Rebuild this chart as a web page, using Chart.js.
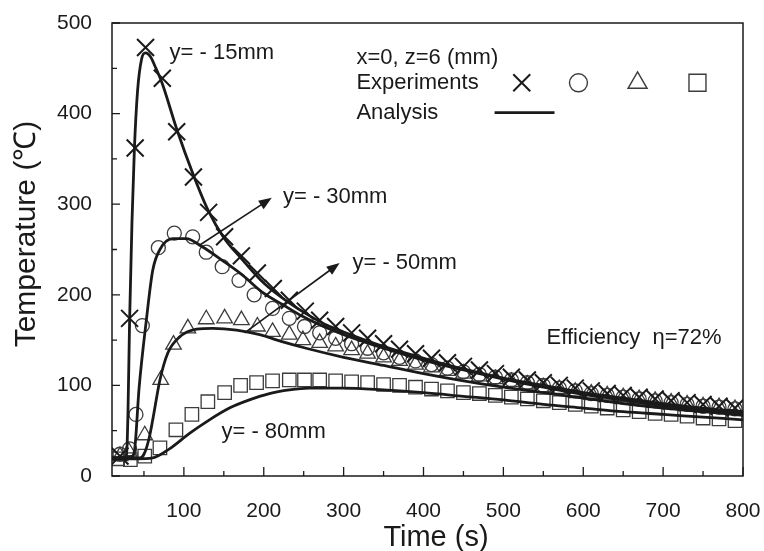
<!DOCTYPE html>
<html>
<head>
<meta charset="utf-8">
<script src="https://cdn.jsdelivr.net/npm/chart.js@4.4.0/dist/chart.umd.min.js"></script>
<style>
html,body{margin:0;padding:0;background:#fff;}
#wrap{width:764px;height:551px;}
</style>
</head>
<body>
<div id="wrap"><canvas id="chartTemp"></canvas></div>
<script>
//=====================================================
// DATA
//=====================================================

const xTicks=[100,200,300,400,500,600,700,800];
const xMinor=[50,150,250,350,450,550,650,750];
const yTicks=[0,100,200,300,400,500];
const yMinor=[50,150,250,350,450];

// experiments (y = -15, -30, -50, -80 mm)
const crossTime=[20,32,39,52,73,91,112,131,151,172,192,212,232,252,270,290,310,330,350,370,390,410,430,450,470,490,510,530,550,570,590,610,630,650,670,690,710,730,750,770,790];
const crossTemp=[22,174,362,473,439,380,330,291,264,243,224,207,194,182,172,165,158,152,146,140,135,130,125,121,117,113,109,106,103,100,97,94,91,89,87,85,83,81,79,77,75];

const circleTime=[20,32,40,48,68,88,111,128,148,169,188,211,232,251,270,290,310,330,350,370,390,410,430,450,470,490,510,530,550,570,590,610,630,650,670,690,710,730,750,770,790];
const circleTemp=[24,30,68,166,252,268,264,247,231,216,200,185,174,165,158,152,146,141,136,131,127,123,119,115,112,109,106,103,100,97,94,91,89,87,85,83,81,79,77,76,74];

const triTime=[20,31,51,71,87,105,128,151,172,192,211,232,249,270,290,310,330,350,370,390,410,430,450,470,490,510,530,550,570,590,610,630,650,670,690,710,730,750,770,790];
const triTemp=[22,27,45,106,145,163,173,174,172,165,159,156,150,147,143,139,135,131,127,123,120,116,113,110,107,104,101,98,96,93,91,89,87,85,83,81,79,77,76,74];

const sqTime=[17,33,51,70,90,110,130,151,171,191,211,232,251,270,290,310,330,350,370,390,410,430,450,470,490,510,530,550,570,590,610,630,650,670,690,710,730,750,770,790];
const sqTemp=[19,18,22,31,51,68,82,92,100,103,105,106,106,106,105,104,103,101,100,98,96,94,92,91,89,87,85,83,81,79,77,75,73,71,69,68,66,64,63,61];

// analysis
const line15Time=[10,28,30,32,35,38,42,47,52,58,64,73,91,112,131,150,172,200,232,257,280,300,340,380,420,460,500,550,600,650,700,750,800];
const line15=[20,21,70,170,280,360,425,460,467,463,452,433,383,332,292,263,240,213,191,177,166,159,146,135,125,116,108,100,92,86,80,75,71];

const line30Time=[10,34,38,44,53,61,70,86,103,123,148,173,198,224,249,275,300,350,400,450,500,550,600,650,700,750,800];
const line30=[20,21,27,98,172,227,250,262,262,253,238,222,203,189,176,165,156,141,128,117,107,98,90,84,78,73,69];

const line50Time=[10,45,50,56,61,70,80,94,116,136,166,195,224,253,300,350,400,450,500,550,600,650,700,750,800];
const line50=[20,20,24,40,62,106,136,153,162,163,161,156,148,141,131,122,113,105,98,92,86,80,75,71,67];

const line80Time=[10,40,61,82,107,132,157,182,207,232,257,280,300,350,400,450,500,550,600,650,700,750,800];
const line80=[19,19,20,30,47,62,75,84,91,95,97,97,97,95,92,88,84,79,75,71,68,65,62];

//=====================================================
// STYLE
//=====================================================

const tinta="#1a1a1a";
const gris="#3c3c3c";
const fuente='"Liberation Sans", Arial, sans-serif';

const xy=(ts,vs)=>ts.map((t,i)=>({x:t,y:vs[i]}));

function exp(label,ts,vs,style,r,bw,col){
  return {label,data:xy(ts,vs),showLine:false,pointStyle:style,pointRadius:r,pointHoverRadius:r,
    pointBorderWidth:bw,pointBorderColor:col,pointBackgroundColor:"rgba(0,0,0,0)"};
}
function ana(label,ts,vs){
  return {label,data:xy(ts,vs),showLine:true,borderColor:tinta,borderWidth:2.8,pointRadius:0,
    cubicInterpolationMode:"monotone",fill:false};
}

//=====================================================
// ANNOTATIONS (data coordinates)
//=====================================================

const notes=[
  {text:"y= - 15mm",t:82,v:467},
  {text:"x=0, z=6 (mm)",t:316,v:461},
  {text:"Experiments",t:316,v:434},
  {text:"Analysis",t:316,v:401},
  {text:"y= - 30mm",t:224,v:308},
  {text:"y= - 50mm",t:311,v:235},
  {text:"y= - 80mm",t:147,v:49},
  {text:"Efficiency  \u03b7=72%",t:554,v:152}
];
const arrows=[
  {t1:120,v1:255,t2:210,v2:307},
  {t1:176,v1:158,t2:295,v2:235}
];
const legendMarks=[
  {style:"crossRot",t:523,r:12,bw:2,col:tinta},
  {style:"circle",t:594,r:9,bw:1.4,col:gris},
  {style:"triangle",t:668,r:11,bw:1.4,col:gris},
  {style:"rect",t:743,r:12,bw:1.4,col:gris}
];

const decor={
  id:"decor",
  beforeDraw(chart){
    const c=chart.ctx;
    c.save();c.fillStyle="#fff";c.fillRect(0,0,chart.width,chart.height);c.restore();
  },
  afterDatasetsDraw(chart){
    const {ctx,chartArea:a,scales:{x,y}}=chart;
    ctx.save();
    ctx.strokeStyle=tinta;
    ctx.lineWidth=1.5;
    ctx.strokeRect(a.left,a.top,a.right-a.left,a.bottom-a.top);

    ctx.beginPath();
    ctx.lineWidth=1.3;
    xTicks.forEach(v=>{const p=x.getPixelForValue(v);ctx.moveTo(p,a.bottom);ctx.lineTo(p,a.bottom-9);});
    xMinor.forEach(v=>{const p=x.getPixelForValue(v);ctx.moveTo(p,a.bottom);ctx.lineTo(p,a.bottom-5);});
    yTicks.forEach(v=>{const p=y.getPixelForValue(v);ctx.moveTo(a.left,p);ctx.lineTo(a.left+8,p);});
    yMinor.forEach(v=>{const p=y.getPixelForValue(v);ctx.moveTo(a.left,p);ctx.lineTo(a.left+5,p);});
    ctx.stroke();

    ctx.fillStyle=tinta;
    ctx.textBaseline="middle";
    ctx.textAlign="center";
    ctx.font="29px "+fuente;
    ctx.fillText("Time (s)",436,538);
    ctx.save();
    ctx.translate(27,234);ctx.rotate(-Math.PI/2);
    ctx.font="30px "+fuente;
    ctx.fillText("Temperature (\u2103)",0,0);
    ctx.restore();

    ctx.font="22px "+fuente;
    ctx.textAlign="left";
    notes.forEach(n=>ctx.fillText(n.text,x.getPixelForValue(n.t),y.getPixelForValue(n.v)));

    arrows.forEach(ar=>{
      const x1=x.getPixelForValue(ar.t1),y1=y.getPixelForValue(ar.v1);
      const x2=x.getPixelForValue(ar.t2),y2=y.getPixelForValue(ar.v2);
      const ang=Math.atan2(y2-y1,x2-x1);
      ctx.beginPath();ctx.lineWidth=1.6;
      ctx.moveTo(x1,y1);ctx.lineTo(x2-10*Math.cos(ang),y2-10*Math.sin(ang));ctx.stroke();
      ctx.beginPath();
      ctx.moveTo(x2,y2);
      ctx.lineTo(x2-13*Math.cos(ang)+5*Math.sin(ang),y2-13*Math.sin(ang)-5*Math.cos(ang));
      ctx.lineTo(x2-13*Math.cos(ang)-5*Math.sin(ang),y2-13*Math.sin(ang)+5*Math.cos(ang));
      ctx.closePath();ctx.fill();
    });

    const vy=y.getPixelForValue(434);
    legendMarks.forEach(m=>{
      ctx.strokeStyle=m.col;ctx.lineWidth=m.bw;ctx.fillStyle="rgba(0,0,0,0)";
      Chart.helpers.drawPoint(ctx,{pointStyle:m.style,radius:m.r,rotation:0,borderWidth:m.bw},x.getPixelForValue(m.t),vy);
    });
    const ly=y.getPixelForValue(401);
    ctx.beginPath();ctx.strokeStyle=tinta;ctx.lineWidth=2.8;
    ctx.moveTo(x.getPixelForValue(489),ly);ctx.lineTo(x.getPixelForValue(564),ly);ctx.stroke();
    ctx.restore();
  }
};

//=====================================================
// CHART
//=====================================================

new Chart(document.getElementById("chartTemp"),{
  type:"scatter",
  data:{
    datasets:[
      ana("y=-15mm",line15Time,line15),
      ana("y=-30mm",line30Time,line30),
      ana("y=-50mm",line50Time,line50),
      ana("y=-80mm",line80Time,line80),
      exp("Exp -15",crossTime,crossTemp,"crossRot",12,2,tinta),
      exp("Exp -30",circleTime,circleTemp,"circle",7,1.3,gris),
      exp("Exp -50",triTime,triTemp,"triangle",9,1.3,gris),
      exp("Exp -80",sqTime,sqTemp,"rect",9.5,1.3,gris)
    ]
  },
  options:{
    responsive:true,
    maintainAspectRatio:false,
    animation:false,
    devicePixelRatio:1,
    layout:{padding:{top:23,right:21,left:0,bottom:0}},
    plugins:{legend:{display:false},tooltip:{enabled:false}},
    scales:{
      x:{
        type:"linear",min:10,max:800,
        afterBuildTicks:s=>{s.ticks=xTicks.map(v=>({value:v}));},
        afterFit:s=>{s.height=75;s.paddingLeft=0;s.paddingRight=0;},
        grid:{display:false},border:{display:false},
        ticks:{color:tinta,padding:15,maxRotation:0,font:{family:fuente,size:21}},
        title:{display:false}
      },
      y:{
        min:0,max:500,
        afterBuildTicks:s=>{s.ticks=yTicks.map(v=>({value:v}));},
        afterFit:s=>{s.width=112;s.paddingTop=0;s.paddingBottom=0;},
        grid:{display:false},border:{display:false},
        ticks:{color:tinta,padding:12,font:{family:fuente,size:21}},
        title:{display:false}
      }
    }
  },
  plugins:[decor]
});
</script>
</body>
</html>
